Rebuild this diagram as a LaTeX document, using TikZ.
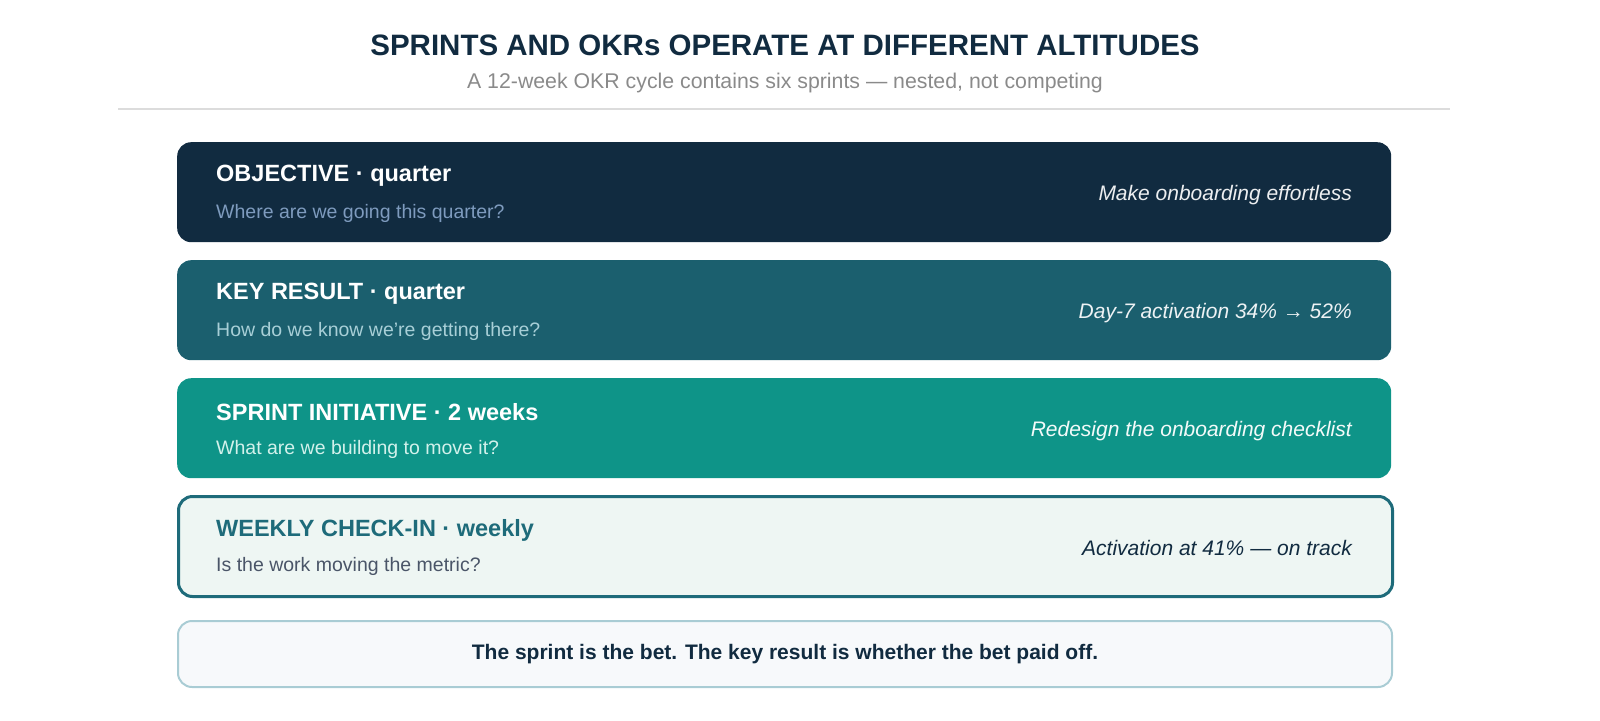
\documentclass[tikz,border=0pt]{standalone}
\usepackage{fontspec}
\setmainfont{Liberation Sans}
\usetikzlibrary{positioning}

\definecolor{ink}{HTML}{112B40}
\definecolor{petrol}{HTML}{1B5F6E}
\definecolor{teal}{HTML}{0E9488}
\definecolor{mist}{HTML}{EEF6F3}
\definecolor{edge}{HTML}{1E6B7A}
\definecolor{paper}{HTML}{F7F9FB}
\definecolor{paleedge}{HTML}{A9CCD4}
\definecolor{grey}{HTML}{8A8A8A}
\definecolor{rule}{HTML}{DCDCDC}
\definecolor{slate}{HTML}{7E9BBE}
\definecolor{foam}{HTML}{A8CFD7}
\definecolor{mint}{HTML}{D2F1EB}
\definecolor{shade}{HTML}{4A5568}

\begin{document}
\begin{tikzpicture}[x=1pt, y=-1pt,
  band/.style={rounded corners=14pt, minimum width=1214pt, minimum height=100pt,
    anchor=north west, inner sep=0pt},
  head/.style={anchor=west, inner sep=0pt, font=\bfseries\fontsize{23.5}{28}\selectfont},
  ask/.style={anchor=west, inner sep=0pt, font=\fontsize{19.5}{24}\selectfont},
  bet/.style={anchor=east, inner sep=0pt, font=\itshape\fontsize{21}{25}\selectfont}]
  \useasboundingbox (0,0) rectangle (1600,720);

  % title
  \node[font=\bfseries\fontsize{29.5}{34}\selectfont, text=ink] (title) at (785,45)
    {SPRINTS AND OKRs OPERATE AT DIFFERENT ALTITUDES};
  \node[font=\fontsize{21.3}{26}\selectfont, text=grey] (subtitle) at (785,83)
    {A 12-week OKR cycle contains six sprints — nested, not competing};
  \coordinate (ruleL) at (118,109);
  \coordinate (ruleR) at (1450,109);
  \draw[rule, line width=1.5pt] (ruleL) -- (ruleR);

  % objective
  \node[band, fill=ink] (obj) at (177,142) {};
  \node[head, text=white] (objhead) at (216,176) {OBJECTIVE · quarter};
  \node[ask, text=slate] (objask) at (216,213) {Where are we going this quarter?};
  \node[bet, text=white!92!ink] (objbet) at (1352,195) {Make onboarding effortless};

  % key result
  \node[band, fill=petrol] (kr) at (177,260) {};
  \node[head, text=white] (krhead) at (216,294) {KEY RESULT · quarter};
  \node[ask, text=foam] (krask) at (216,331) {How do we know we're getting there?};
  \node[bet, text=white!92!petrol] (krbet) at (1352,313) {Day-7 activation 34\% → 52\%};

  % sprint
  \node[band, fill=teal] (spr) at (177,378) {};
  \node[head, text=white] (sprhead) at (216,412) {SPRINT INITIATIVE · 2 weeks};
  \node[ask, text=mint] (sprask) at (216,449) {What are we building to move it?};
  \node[bet, text=white!95!teal] (sprbet) at (1352,431) {Redesign the onboarding checklist};

  % weekly check-in
  \node[band, fill=mist, draw=edge, line width=3pt] (chk) at (177,495) {};
  \node[head, text=edge] (chkhead) at (216,530) {WEEKLY CHECK-IN · weekly};
  \node[ask, text=shade] (chkask) at (216,566) {Is the work moving the metric?};
  \node[bet, text=ink] (chkbet) at (1352,548) {Activation at 41\% — on track};

  % takeaway
  \node[band, fill=paper, draw=paleedge, line width=2pt, minimum height=66pt] (take) at (177,620) {};
  \node[font=\bfseries\fontsize{21}{25}\selectfont, text=ink] (takeline) at (take.center)
    {The sprint is the bet. The key result is whether the bet paid off.};
\end{tikzpicture}
\end{document}
